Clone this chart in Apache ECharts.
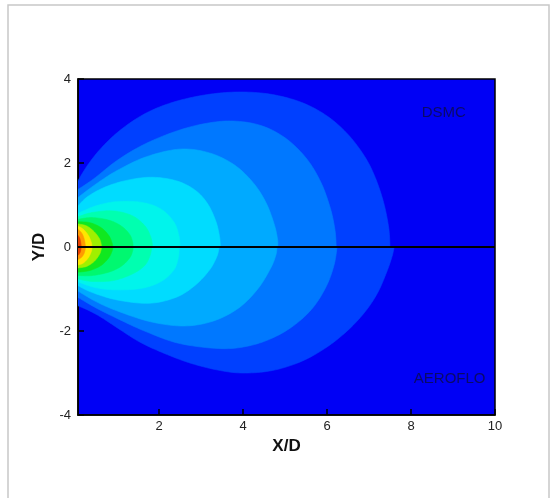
<!DOCTYPE html>
<html>
<head>
<meta charset="utf-8">
<title>Plume contours</title>
<script src="https://cdn.jsdelivr.net/npm/echarts@6/dist/echarts.min.js"></script>
<style>
  html, body { margin: 0; padding: 0; background: #ffffff; }
  #chart { width: 556px; height: 498px; }
</style>
</head>
<body>
<div id="chart"></div>
<script>
// Axis extents and tick labels
const xRange = [0.07, 10];
const yRange = [-4, 4];
const xTickValues = [2, 4, 6, 8, 10];

// Fill colours of the contour bands, outermost band first
const bandColors = ['#0040ff', '#0078ff', '#00aaff', '#00dcff', '#00f4ec', '#00ffb0',
                    '#00f870', '#10e820', '#a0f000', '#ffe600', '#ff9a00', '#e84000'];

// DSMC (upper half) contour boundaries, [X/D, Y/D] from the left edge to the axis
const dsmc1  = [[0.07,1.58],[0.3,1.95],[0.6,2.33],[1.0,2.72],[1.5,3.08],[2.0,3.33],[2.6,3.52],[3.3,3.65],[4.0,3.69],[4.7,3.63],[5.4,3.44],[6.0,3.12],[6.5,2.68],[6.9,2.15],[7.15,1.65],[7.35,1.05],[7.47,0.45],[7.5,0]];
const dsmc2  = [[0.07,1.37],[0.44,1.62],[1.0,2.06],[1.6,2.42],[2.3,2.72],[3.0,2.92],[3.7,3.0],[4.4,2.9],[5.0,2.6],[5.5,2.12],[5.85,1.55],[6.08,0.92],[6.19,0.4],[6.22,0]];
const dsmc3  = [[0.07,1.18],[0.5,1.5],[1.0,1.82],[1.7,2.15],[2.5,2.33],[3.2,2.24],[3.8,1.95],[4.25,1.52],[4.55,1.05],[4.74,0.55],[4.82,0.2],[4.83,0]];
const dsmc4  = [[0.07,0.98],[0.3,1.2],[0.7,1.42],[1.2,1.58],[1.8,1.66],[2.4,1.58],[2.85,1.36],[3.15,1.04],[3.35,0.62],[3.44,0.25],[3.46,0]];
const dsmc5  = [[0.07,0.8],[0.5,0.98],[1.0,1.08],[1.6,1.06],[2.05,0.9],[2.35,0.6],[2.47,0.28],[2.5,0]];
const dsmc6  = [[0.07,0.72],[0.4,0.82],[0.9,0.86],[1.35,0.75],[1.65,0.52],[1.8,0.25],[1.85,0]];
const dsmc7  = [[0.07,0.66],[0.4,0.7],[0.8,0.64],[1.1,0.5],[1.3,0.3],[1.37,0.12],[1.38,0]];
const dsmc8  = [[0.07,0.6],[0.35,0.58],[0.62,0.46],[0.8,0.28],[0.88,0.1],[0.9,0]];
const dsmc9  = [[0.07,0.55],[0.28,0.5],[0.46,0.36],[0.58,0.2],[0.62,0.08],[0.63,0]];
const dsmc10 = [[0.07,0.5],[0.2,0.42],[0.32,0.27],[0.39,0.1],[0.4,0]];
const dsmc11 = [[0.07,0.42],[0.16,0.33],[0.22,0.18],[0.25,0]];
const dsmc12 = [[0.07,0.28],[0.12,0.18],[0.15,0]];

// AEROFLO (lower half) contour boundaries
const aero1  = [[0.07,-1.4],[0.3,-1.5],[0.6,-1.66],[1.0,-1.92],[1.5,-2.24],[2.0,-2.48],[2.7,-2.75],[3.4,-2.93],[4.0,-3.0],[4.7,-2.94],[5.4,-2.72],[6.0,-2.38],[6.5,-1.98],[6.9,-1.55],[7.2,-1.1],[7.42,-0.6],[7.55,-0.22],[7.6,0]];
const aero2  = [[0.07,-1.2],[0.5,-1.45],[1.0,-1.7],[1.7,-2.02],[2.5,-2.3],[3.5,-2.42],[4.2,-2.34],[4.8,-2.12],[5.3,-1.8],[5.7,-1.4],[6.0,-0.9],[6.17,-0.42],[6.24,0]];
const aero3  = [[0.07,-1.05],[0.5,-1.3],[1.0,-1.52],[1.8,-1.78],[2.6,-1.88],[3.3,-1.76],[3.9,-1.45],[4.35,-1.0],[4.65,-0.52],[4.78,-0.2],[4.81,0]];
const aero4  = [[0.07,-0.92],[0.4,-1.08],[1.0,-1.26],[1.76,-1.34],[2.4,-1.2],[2.85,-0.92],[3.2,-0.55],[3.38,-0.22],[3.43,0]];
const aero5  = [[0.07,-0.83],[0.5,-0.97],[1.0,-1.02],[1.6,-0.98],[2.05,-0.82],[2.35,-0.55],[2.46,-0.25],[2.48,0]];
const aero6  = [[0.07,-0.76],[0.4,-0.82],[0.9,-0.8],[1.35,-0.65],[1.65,-0.45],[1.78,-0.22],[1.83,0]];
const aero7  = [[0.07,-0.68],[0.4,-0.68],[0.8,-0.6],[1.1,-0.46],[1.3,-0.26],[1.37,-0.1],[1.38,0]];
const aero8  = [[0.07,-0.6],[0.35,-0.56],[0.62,-0.44],[0.8,-0.26],[0.88,-0.1],[0.9,0]];
const aero9  = [[0.07,-0.5],[0.28,-0.46],[0.46,-0.34],[0.58,-0.18],[0.62,-0.07],[0.63,0]];
const aero10 = [[0.07,-0.43],[0.2,-0.38],[0.32,-0.25],[0.39,-0.1],[0.4,0]];
const aero11 = [[0.07,-0.3],[0.16,-0.24],[0.22,-0.14],[0.25,0]];
const aero12 = [[0.07,-0.2],[0.12,-0.13],[0.15,0]];

const dsmcBounds = [dsmc1, dsmc2, dsmc3, dsmc4, dsmc5, dsmc6, dsmc7, dsmc8, dsmc9, dsmc10, dsmc11, dsmc12];
const aeroBounds = [aero1, aero2, aero3, aero4, aero5, aero6, aero7, aero8, aero9, aero10, aero11, aero12];

// Region labels
const regionLabels = [
  { name: 'DSMC', value: [8.78, 3.2] },
  { name: 'AEROFLO', value: [8.92, -3.15] }
];

// Catmull-Rom densification of a pixel polyline so the band edges are smooth
function smoothPath(pts, steps) {
  const out = [pts[0]];
  for (let i = 0; i < pts.length - 1; i++) {
    const p0 = pts[Math.max(i - 1, 0)], p1 = pts[i], p2 = pts[i + 1], p3 = pts[Math.min(i + 2, pts.length - 1)];
    for (let s = 1; s <= steps; s++) {
      const t = s / steps, t2 = t * t, t3 = t2 * t;
      const f = (a, b, c, d) => 0.5 * ((2 * b) + (-a + c) * t + (2 * a - 5 * b + 4 * c - d) * t2 + (-a + 3 * b - 3 * c + d) * t3);
      out.push([f(p0[0], p1[0], p2[0], p3[0]), f(p0[1], p1[1], p2[1], p3[1])]);
    }
  }
  return out;
}

function bandSeries(bounds) {
  return {
    type: 'custom',
    clip: true,
    silent: true,
    z: 2,
    data: bounds.map((b, i) => [b[0][0], b[0][1], i]),
    encode: { x: 0, y: 1 },
    renderItem: function (params, api) {
      const idx = api.value(2);
      const b = bounds[idx];
      const curve = smoothPath(b.map(p => api.coord(p)), 10);
      const poly = [api.coord([0, 0]), api.coord([0, b[0][1]])].concat(curve);
      return {
        type: 'polygon',
        shape: { points: poly },
        style: { fill: bandColors[idx], stroke: bandColors[idx], lineWidth: 0.6 }
      };
    }
  };
}

const chart = echarts.init(document.getElementById('chart'), null, { renderer: 'canvas' });

const fontFamily = 'Liberation Sans, Arial, sans-serif';
const tickFont = { fontFamily: fontFamily, fontSize: 13, color: '#222' };
const nameFont = { fontFamily: fontFamily, fontSize: 17, fontWeight: 'bold', color: '#111' };

chart.setOption({
  animation: false,
  backgroundColor: '#ffffff',
  graphic: [{
    type: 'rect',
    shape: { x: 8, y: 5, width: 541, height: 500 },
    style: { fill: 'none', stroke: '#c8c8c8', lineWidth: 1.5 },
    silent: true
  }],
  grid: {
    left: 78, right: 61, top: 79, bottom: 83,
    show: true, backgroundColor: '#0000f5', borderColor: '#000', borderWidth: 1.5
  },
  xAxis: {
    type: 'value', min: xRange[0], max: xRange[1],
    name: 'X/D', nameLocation: 'middle', nameGap: 19,
    nameTextStyle: nameFont,
    axisLine: { show: true, onZero: false, lineStyle: { color: '#000', width: 1.5 } },
    axisTick: { show: true, inside: true, length: 6, customValues: xTickValues, lineStyle: { color: '#000', width: 1.5 } },
    axisLabel: { show: true, customValues: xTickValues, margin: 5, ...tickFont },
    splitLine: { show: false }
  },
  yAxis: {
    type: 'value', min: yRange[0], max: yRange[1], interval: 2,
    name: 'Y/D', nameLocation: 'middle', nameGap: 30,
    nameTextStyle: nameFont,
    axisLine: { show: true, onZero: false, lineStyle: { color: '#000', width: 1.5 } },
    axisTick: { show: true, inside: true, length: 6, lineStyle: { color: '#000', width: 1.5 } },
    axisLabel: { show: true, margin: 7, ...tickFont },
    splitLine: { show: false }
  },
  series: [
    bandSeries(dsmcBounds),
    bandSeries(aeroBounds),
    {
      type: 'line',
      data: [[xRange[0], 0], [xRange[1], 0]],
      symbol: 'none',
      lineStyle: { color: '#000', width: 2 },
      z: 5,
      silent: true
    },
    {
      type: 'scatter',
      data: regionLabels,
      symbolSize: 0,
      z: 6,
      silent: true,
      label: {
        show: true, position: 'inside', formatter: '{b}',
        fontFamily: fontFamily, fontSize: 15, color: '#0d0d45'
      }
    }
  ]
});
</script>
</body>
</html>
